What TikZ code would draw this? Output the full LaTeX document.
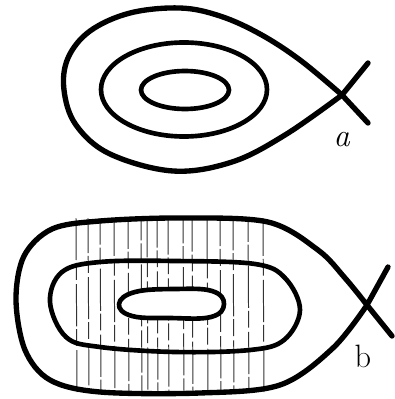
\documentclass[tikz,border=0pt]{standalone}
\begin{document}
\begin{tikzpicture}[x=0.25mm,y=-0.25mm,
  thick line/.style={line width=3.8pt,line cap=round,line join=round},
  mid line/.style={line width=3.3pt,line cap=round,line join=round},
  hatch/.style={line width=0.7pt,black!80,dash pattern=on 30pt off 2pt on 12pt off 3pt},
  lbl/.style={font=\fontsize{23}{26}\selectfont}]
\useasboundingbox (0,0) rectangle (394,399);
% ---------- figure a ----------
\draw[thick line] (368,123) -- (342,95)
  plot[smooth,tension=0.6] coordinates {(342,95) (300,60) (260,34) (220,16) (180,8) (130,13) (90,31) (68,58) (64,90) (76,125) (110,154) (173,171) (232,162) (285,135) (342,95)}
  -- (368,63);
\draw[mid line] (184,89.5) ellipse [x radius=83, y radius=47];
\draw[mid line] (185,90) ellipse [x radius=44, y radius=19];
\node[lbl] (la) at (342,140) {\textit{a}};
% ---------- figure b ----------
\begin{scope}
\clip (75,218) rectangle (265,392);
\foreach \x/\s in {76/0,88/5,100/11,114/3,128/8,141/14,147/2,157/9,168/4,183/12,192/6,207/1,220/10,233/7,248/13,263/3}
  \draw[hatch,dash phase=\s pt] (\x,218) -- (\x+1,392);
\end{scope}
\fill[white] plot[smooth cycle,tension=0.7] coordinates {(119,304) (135,292) (175,289) (212,291) (224,304) (211,317) (170,318) (132,316)};
\draw[thick line] (392,336) -- (367,305)
  plot[smooth,tension=0.55] coordinates {(367,305) (345,278) (318,250) (268,222) (180,218) (100,221) (52,229) (24,256) (16,300) (25,350) (50,380) (100,392) (200,393) (280,385) (333,348) (367,305)}
  -- (388,267);
\draw[mid line] plot[smooth cycle,tension=0.6] coordinates {(50,302) (62,272) (100,262) (175,261) (255,264) (285,278) (300,310) (284,340) (250,350) (175,352) (100,347) (66,337)};
\draw[mid line] plot[smooth cycle,tension=0.7] coordinates {(119,304) (135,292) (175,289) (212,291) (224,304) (211,317) (170,318) (132,316)};
\node[lbl] (lb) at (363,356) {b};
\end{tikzpicture}
\end{document}
